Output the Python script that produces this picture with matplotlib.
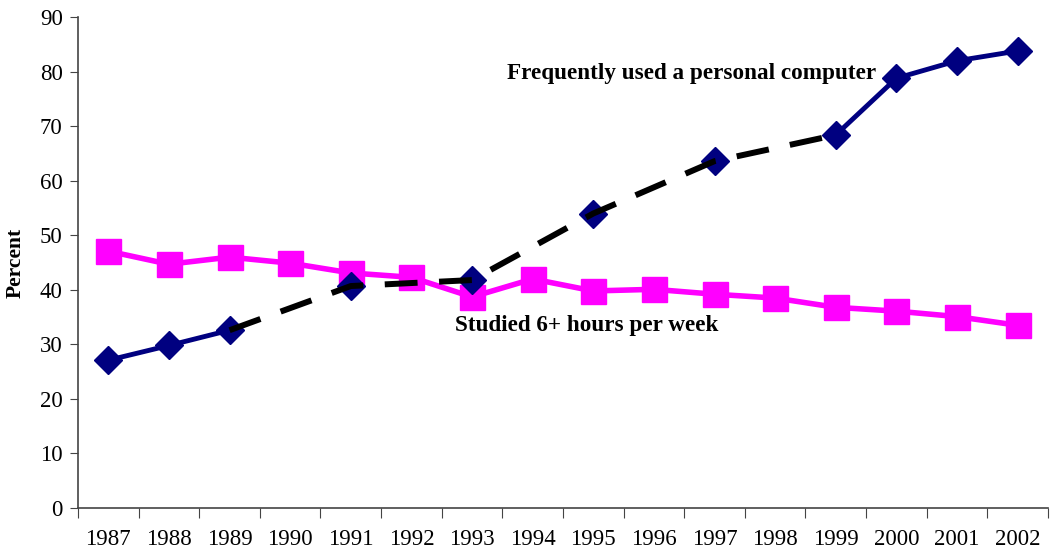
import numpy as np
import matplotlib
matplotlib.use("Agg")
import matplotlib.pyplot as plt

# ── data ─────────────────────────────────────────────────────────────────────
years = [str(y) for y in range(1987, 2003)]
computer = [27.1, 29.8, 32.6, np.nan, 40.7, np.nan, 41.8, np.nan, 54.0, np.nan,
            63.6, np.nan, 68.4, 78.8, 82.0, 83.8]
studied = [47.1, 44.7, 46.0, 44.9, 43.1, 42.3, 38.7, 42.0, 39.8, 40.1,
           39.2, 38.5, 36.8, 36.1, 35.1, 33.5]
yticks = [0, 10, 20, 30, 40, 50, 60, 70, 80, 90]

NAVY = "#000080"
PINK = "#FF00FF"
FONT = "Liberation Serif"

plt.rcParams["font.family"] = FONT

fig = plt.figure(figsize=(10.5, 5.54), dpi=100)
ax = fig.add_axes([0.0743, 0.083, 0.9237, 0.886])

x = np.arange(len(years))
comp = np.array(computer)
ok = ~np.isnan(comp)

# dashed connector across the years with gaps (1989–1999)
span = ok & (x >= 2) & (x <= 12)
ax.plot(x[span], comp[span], color="black", lw=4.3, ls=(0, (5.5, 3.6)),
        zorder=3, dash_capstyle="butt")

ax.plot(x, studied, color=PINK, lw=4, marker="s", ms=18,
        markeredgecolor=PINK, zorder=2)
ax.plot(x, comp, color=NAVY, lw=3.5, marker="D", ms=14.5,
        markeredgecolor=NAVY, zorder=2.5)

ax.set_xlim(-0.5, len(years) - 0.5)
ax.set_ylim(0, 90)
ax.set_yticks(yticks)
ax.set_xticks(np.arange(-0.5, len(years)), minor=False)
ax.set_xticklabels([])
ax.set_xticks(x, minor=True)
ax.set_xticklabels(years, minor=True)
ax.tick_params(axis="x", which="major", length=7, direction="out", color="#444")
ax.tick_params(axis="x", which="minor", length=0, pad=15, labelsize=16.5)
ax.tick_params(axis="y", length=6, direction="out", color="#444",
               labelsize=16.5, pad=5)

for s in ("top", "right"):
    ax.spines[s].set_visible(False)
for s in ("left", "bottom"):
    ax.spines[s].set_color("#444")
    ax.spines[s].set_linewidth(1.2)

ax.set_ylabel("Percent", fontsize=15.5, fontweight="bold", labelpad=10)

ax.text(6.58, 79.7, "Frequently used a personal computer", fontsize=16.7,
        fontweight="bold", ha="left", va="center", zorder=4)
ax.text(5.72, 33.5, "Studied 6+ hours per week", fontsize=16.7,
        fontweight="bold", ha="left", va="center", zorder=4)

fig.savefig("out.png", dpi=100, facecolor="white")
